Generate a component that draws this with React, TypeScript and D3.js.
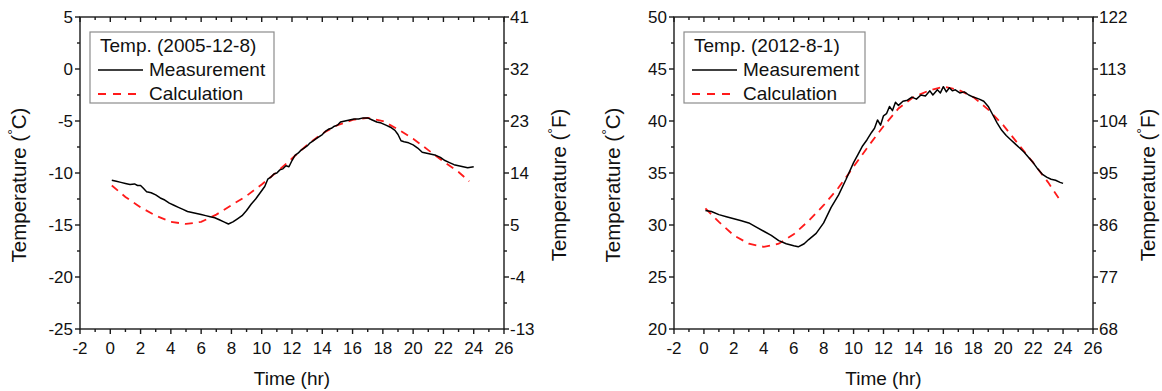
import React from "react";
import * as d3 from "d3";

// ---------- DATA ----------
const xTicks = [-2, 0, 2, 4, 6, 8, 10, 12, 14, 16, 18, 20, 22, 24, 26];

// Panel A (2005-12-8)
const legendTitleA = "Temp. (2005-12-8)";
const cTicksA = [-25, -20, -15, -10, -5, 0, 5];
const fTicksA = [-13, -4, 5, 14, 23, 32, 41];
const measTimeA = [0.1, 0.4, 0.7, 1.0, 1.3, 1.6, 1.8, 2.0, 2.2, 2.4, 2.7, 3.0, 3.3, 3.6, 3.9, 4.2, 4.5, 4.8, 5.1, 5.4, 5.7, 6.0, 6.3, 6.6, 6.9, 7.2, 7.5, 7.8, 8.1, 8.4, 8.7, 9.0, 9.3, 9.6, 9.9, 10.2, 10.4, 10.6, 10.8, 11.0, 11.2, 11.4, 11.6, 11.8, 12.0, 12.2, 12.4, 12.6, 12.8, 13.0, 13.2, 13.4, 13.6, 13.8, 14.0, 14.2, 14.4, 14.6, 14.8, 15.0, 15.2, 15.5, 15.8, 16.1, 16.4, 16.7, 17.0, 17.3, 17.6, 17.9, 18.2, 18.5, 18.8, 19.0, 19.2, 19.4, 19.7, 20.0, 20.3, 20.6, 20.9, 21.2, 21.5, 21.8, 22.1, 22.4, 22.7, 23.0, 23.3, 23.6, 24.0];
const measTempA = [-10.7, -10.8, -10.9, -11.0, -11.1, -11.05, -11.2, -11.2, -11.5, -11.8, -11.9, -12.1, -12.4, -12.6, -12.9, -13.1, -13.3, -13.5, -13.7, -13.8, -13.9, -14.0, -14.1, -14.2, -14.3, -14.5, -14.7, -14.9, -14.7, -14.4, -14.1, -13.6, -13.0, -12.5, -11.9, -11.3, -10.6, -10.4, -10.1, -10.0, -9.7, -9.6, -9.3, -9.4, -8.8, -8.3, -8.1, -7.8, -7.6, -7.4, -7.1, -6.9, -6.7, -6.5, -6.3, -6.0, -5.8, -5.7, -5.5, -5.4, -5.1, -5.0, -4.9, -4.8, -4.8, -4.7, -4.7, -4.9, -5.1, -5.2, -5.4, -5.6, -5.9, -6.3, -6.9, -7.0, -7.1, -7.3, -7.6, -8.0, -8.1, -8.2, -8.3, -8.5, -8.8, -9.0, -9.2, -9.3, -9.4, -9.5, -9.4];
const calcTimeA = [0.1, 1, 2, 3, 4, 5, 6, 7, 8, 9, 10, 11, 12, 13, 14, 15, 16, 17, 18, 19, 20, 21, 22, 23, 23.7];
const calcTempA = [-11.2, -12.3, -13.3, -14.1, -14.7, -14.9, -14.7, -14.0, -13.1, -12.2, -11.1, -9.9, -8.6, -7.3, -6.2, -5.4, -4.9, -4.7, -5.0, -5.8, -6.7, -7.8, -8.9, -9.9, -10.8];

// Panel B (2012-8-1)
const legendTitleB = "Temp. (2012-8-1)";
const cTicksB = [20, 25, 30, 35, 40, 45, 50];
const fTicksB = [68, 77, 86, 95, 104, 113, 122];
const measTimeB = [0.1, 0.5, 1.0, 1.5, 2.0, 2.5, 3.0, 3.5, 4.0, 4.5, 5.0, 5.5, 6.0, 6.3, 6.7, 7.0, 7.5, 8.0, 8.5, 9.0, 9.5, 10.0, 10.3, 10.6, 10.9, 11.2, 11.4, 11.6, 11.8, 12.0, 12.2, 12.4, 12.6, 12.8, 13.0, 13.3, 13.6, 13.9, 14.2, 14.5, 14.8, 15.1, 15.3, 15.6, 15.8, 16.0, 16.2, 16.4, 16.6, 16.8, 17.1, 17.4, 17.7, 18.0, 18.4, 18.7, 19.0, 19.3, 19.6, 19.9, 20.2, 20.5, 20.8, 21.1, 21.4, 21.7, 22.0, 22.3, 22.6, 22.9, 23.2, 23.5, 23.8, 24.0];
const measTempB = [31.4, 31.3, 31.0, 30.8, 30.6, 30.4, 30.2, 29.8, 29.4, 29.0, 28.5, 28.2, 28.0, 27.9, 28.2, 28.6, 29.2, 30.2, 31.7, 32.9, 34.4, 36.0, 36.8, 37.6, 38.2, 38.9, 39.3, 40.1, 39.6, 40.5, 40.7, 41.4, 41.0, 41.8, 41.5, 41.9, 42.0, 42.3, 42.1, 42.5, 42.4, 42.9, 42.5, 43.0, 42.7, 43.3, 42.8, 43.2, 42.9, 43.0, 42.7, 42.8, 42.5, 42.3, 42.1, 41.9, 41.4, 40.6, 39.8, 39.1, 38.6, 38.2, 37.8, 37.4, 37.0, 36.5, 36.0, 35.4, 34.9, 34.6, 34.4, 34.3, 34.1, 34.0];
const calcTimeB = [0.1, 1, 2, 3, 4, 5, 6, 7, 8, 9, 10, 11, 12, 13, 14, 15, 16, 17, 18, 19, 20, 21, 22, 23, 23.7];
const calcTempB = [31.6, 30.3, 29.0, 28.2, 27.9, 28.2, 29.1, 30.4, 31.9, 33.6, 35.6, 37.6, 39.5, 41.2, 42.3, 42.9, 43.3, 43.0, 42.3, 41.1, 39.6, 37.8, 36.0, 34.1, 32.6];

const legendLabels = ["Measurement", "Calculation"];

// ---------- LAYOUT ----------
const W = 1162;
const H = 391;
const TOP = 17;
const BOTTOM = 329;
const FONT = "'Liberation Sans', Arial, Helvetica, sans-serif";
const TICK_FS = 17;
const TITLE_FS = 19;
const YTITLE_FS = 20.5;
const LEGEND_FS = 19;

type PanelProps = {
  left: number;
  right: number;
  cTicks: number[];
  fTicks: number[];
  measT: number[];
  measV: number[];
  calcT: number[];
  calcV: number[];
  title: string;
  legendW: number;
};

function Panel({ left, right, cTicks, fTicks, measT, measV, calcT, calcV, title, legendW }: PanelProps) {
  const x = d3.scaleLinear().domain([xTicks[0], xTicks[xTicks.length - 1]]).range([left, right]);
  const y = d3.scaleLinear().domain([cTicks[0], cTicks[cTicks.length - 1]]).range([BOTTOM, TOP]);
  const yf = d3.scaleLinear().domain([fTicks[0], fTicks[fTicks.length - 1]]).range([BOTTOM, TOP]);

  const line = d3.line<[number, number]>().x((d) => x(d[0])).y((d) => y(d[1]));
  const measPath = line(measT.map((t, i) => [t, measV[i]] as [number, number])) || "";
  const calcPath = line(calcT.map((t, i) => [t, calcV[i]] as [number, number])) || "";

  const xMinor: number[] = [];
  for (let i = 0; i < xTicks.length - 1; i++) xMinor.push((xTicks[i] + xTicks[i + 1]) / 2);
  const cMinor: number[] = [];
  for (let i = 0; i < cTicks.length - 1; i++) cMinor.push((cTicks[i] + cTicks[i + 1]) / 2);
  const fMinor: number[] = [];
  for (let i = 0; i < fTicks.length - 1; i++) fMinor.push((fTicks[i] + fTicks[i + 1]) / 2);

  const axisColor = "#1a1a1a";
  const sw = 1.4;
  const cx = (left + right) / 2;
  const cy = (TOP + BOTTOM) / 2 + 12;
  const lgX = left + 10;
  const lgY = 32;

  return (
    <g fontFamily={FONT} fill="#111">
      {/* data */}
      <path d={calcPath} fill="none" stroke="#ff1a1a" strokeWidth={1.8} strokeDasharray="8,6" />
      <path d={measPath} fill="none" stroke="#000" strokeWidth={1.5} strokeLinejoin="round" />

      {/* frame */}
      <rect x={left} y={TOP} width={right - left} height={BOTTOM - TOP} fill="none" stroke={axisColor} strokeWidth={sw} />

      {/* bottom ticks (outward) and top ticks (inward) */}
      {xTicks.map((t) => (
        <g key={"xt" + t}>
          <line x1={x(t)} x2={x(t)} y1={BOTTOM} y2={BOTTOM + 5} stroke={axisColor} strokeWidth={sw} />
          <line x1={x(t)} x2={x(t)} y1={TOP} y2={TOP + 5} stroke={axisColor} strokeWidth={sw} />
          <text x={x(t)} y={BOTTOM + 25} textAnchor="middle" fontSize={TICK_FS} stroke="none">
            {t}
          </text>
        </g>
      ))}
      {xMinor.map((t) => (
        <g key={"xm" + t}>
          <line x1={x(t)} x2={x(t)} y1={BOTTOM} y2={BOTTOM + 3} stroke={axisColor} strokeWidth={sw} />
          <line x1={x(t)} x2={x(t)} y1={TOP} y2={TOP + 3} stroke={axisColor} strokeWidth={sw} />
        </g>
      ))}

      {/* left C axis */}
      {cTicks.map((v) => (
        <g key={"ct" + v}>
          <line x1={left - 5} x2={left} y1={y(v)} y2={y(v)} stroke={axisColor} strokeWidth={sw} />
          <text x={left - 7} y={y(v) + 6} textAnchor="end" fontSize={TICK_FS}>
            {v}
          </text>
        </g>
      ))}
      {cMinor.map((v) => (
        <line key={"cm" + v} x1={left - 3} x2={left} y1={y(v)} y2={y(v)} stroke={axisColor} strokeWidth={sw} />
      ))}

      {/* right F axis */}
      {fTicks.map((v) => (
        <g key={"ft" + v}>
          <line x1={right} x2={right + 5} y1={yf(v)} y2={yf(v)} stroke={axisColor} strokeWidth={sw} />
          <text x={right + 6} y={yf(v) + 6} textAnchor="start" fontSize={TICK_FS}>
            {v}
          </text>
        </g>
      ))}
      {fMinor.map((v) => (
        <line key={"fm" + v} x1={right} x2={right + 3} y1={yf(v)} y2={yf(v)} stroke={axisColor} strokeWidth={sw} />
      ))}

      {/* axis titles */}
      <text x={cx} y={385} textAnchor="middle" fontSize={TITLE_FS}>
        Time (hr)
      </text>
      <text transform={`translate(${left - 54},${cy}) rotate(-90)`} textAnchor="middle" fontSize={YTITLE_FS}>
        Temperature (<tspan fontSize={14} dy={-8}>°</tspan>
        <tspan dy={8}>C)</tspan>
      </text>
      <text transform={`translate(${right + 62},${cy}) rotate(-90)`} textAnchor="middle" fontSize={YTITLE_FS}>
        Temperature (<tspan fontSize={14} dy={-8}>°</tspan>
        <tspan dy={8}>F)</tspan>
      </text>

      {/* legend */}
      <rect x={lgX} y={lgY} width={legendW} height={71} fill="#fff" stroke="#8c8c8c" strokeWidth={1.2} />
      <text x={lgX + 10} y={lgY + 20} fontSize={LEGEND_FS}>
        {title}
      </text>
      <line x1={lgX + 8} x2={lgX + 53} y1={lgY + 38} y2={lgY + 38} stroke="#000" strokeWidth={1.5} />
      <text x={lgX + 59} y={lgY + 44} fontSize={LEGEND_FS}>
        {legendLabels[0]}
      </text>
      <line x1={lgX + 8} x2={lgX + 53} y1={lgY + 62} y2={lgY + 62} stroke="#ff1a1a" strokeWidth={1.8} strokeDasharray="8,7" />
      <text x={lgX + 59} y={lgY + 68} fontSize={LEGEND_FS}>
        {legendLabels[1]}
      </text>
    </g>
  );
}

export default function App() {
  return (
    <svg
      width={W}
      height={H}
      viewBox={`0 0 ${W} ${H}`}
      style={{ position: "absolute", left: 0, top: 0, background: "#fff" }}
    >
      <rect x={0} y={0} width={W} height={H} fill="#fff" />
      <Panel
        left={80}
        right={504}
        cTicks={cTicksA}
        fTicks={fTicksA}
        measT={measTimeA}
        measV={measTempA}
        calcT={calcTimeA}
        calcV={calcTempA}
        title={legendTitleA}
        legendW={184}
      />
      <Panel
        left={674}
        right={1093}
        cTicks={cTicksB}
        fTicks={fTicksB}
        measT={measTimeB}
        measV={measTempB}
        calcT={calcTimeB}
        calcV={calcTempB}
        title={legendTitleB}
        legendW={181}
      />
    </svg>
  );
}
